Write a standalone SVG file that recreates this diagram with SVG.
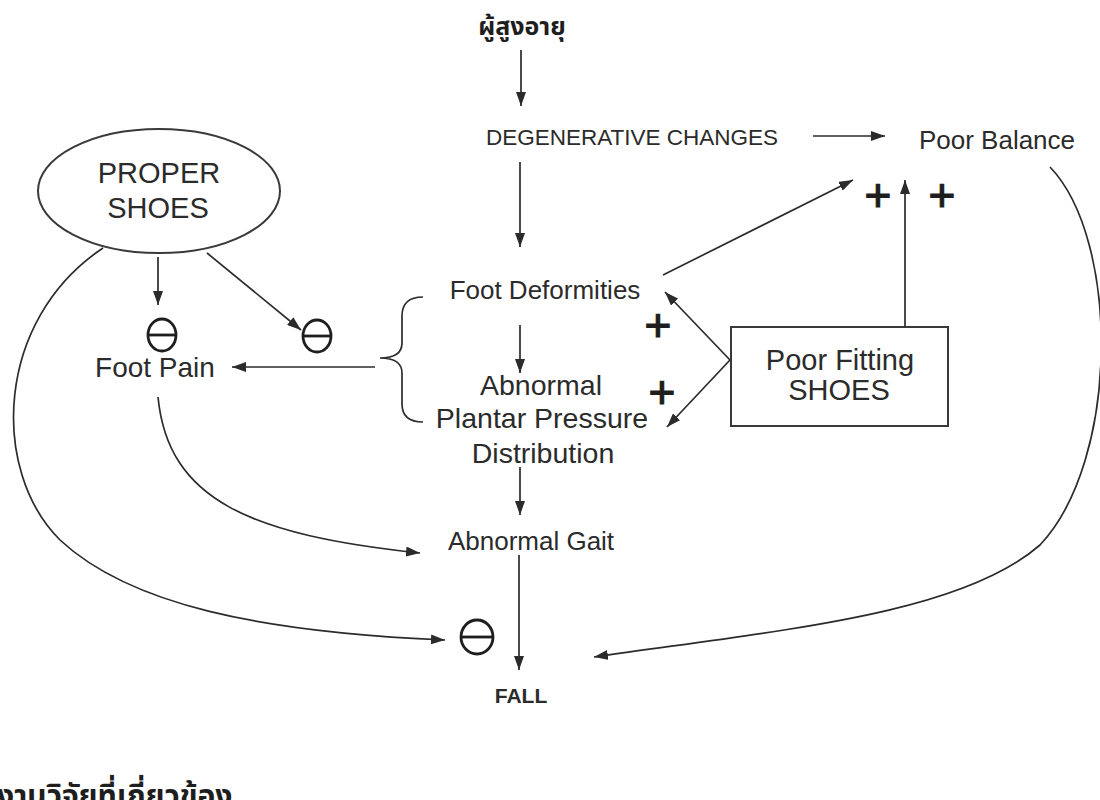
<svg xmlns="http://www.w3.org/2000/svg" width="1100" height="800" viewBox="0 0 1100 800">
<defs>
<marker id="ah" viewBox="0 0 14 10" refX="14" refY="5" markerWidth="14" markerHeight="10" markerUnits="userSpaceOnUse" orient="auto">
<path d="M0,0 L14,5 L0,10 Z" fill="#2b2b2b"/>
</marker>
<style>
.t{font-family:"Liberation Sans",Arial,sans-serif;fill:#2b2b2b;text-anchor:middle}
.th{font-family:"Noto Sans Thai","Noto Sans","DejaVu Sans",sans-serif;fill:#1e1e1e;font-weight:bold}
.c{fill:none;stroke:#2b2b2b;stroke-width:1.7}
.a{marker-end:url(#ah)}
.neg{fill:none;stroke:#1e1e1e;stroke-width:2.8}
.plus{font-family:"Liberation Sans",Arial,sans-serif;fill:#1e1e1e;stroke:#1e1e1e;stroke-width:1.2;text-anchor:middle;font-size:46px}
</style>
</defs>
<rect width="1100" height="800" fill="#ffffff"/>

<g id="elderly"><text class="th" x="522" y="35" font-size="25" text-anchor="middle">ผู้สูงอายุ</text></g>
<g id="degenerative"><text class="t" x="632" y="145" font-size="22.5">DEGENERATIVE CHANGES</text></g>
<g id="poor-balance"><text class="t" x="997" y="149" font-size="26">Poor Balance</text></g>
<g id="proper-shoes">
<ellipse cx="159" cy="191" rx="121" ry="62" fill="none" stroke="#3a3a3a" stroke-width="2"/>
<text class="t" x="159" y="183" font-size="29">PROPER</text>
<text class="t" x="158" y="218" font-size="29">SHOES</text>
</g>
<g id="foot-pain"><text class="t" x="155" y="377" font-size="28">Foot Pain</text></g>
<g id="foot-deformities"><text class="t" x="545" y="299" font-size="26">Foot Deformities</text></g>
<g id="plantar-pressure">
<text class="t" x="541" y="395" font-size="28.5">Abnormal</text>
<text class="t" x="542" y="428" font-size="28.5">Plantar Pressure</text>
<text class="t" x="543" y="463" font-size="28.5">Distribution</text>
</g>
<g id="abnormal-gait"><text class="t" x="531" y="550" font-size="26">Abnormal Gait</text></g>
<g id="fall"><text class="t" x="521" y="703" font-size="21" font-weight="bold">FALL</text></g>
<g id="poor-fitting-shoes">
<rect x="731" y="327" width="217" height="99" fill="none" stroke="#3a3a3a" stroke-width="2"/>
<text class="t" x="840" y="370" font-size="29">Poor Fitting</text>
<text class="t" x="839" y="400" font-size="29">SHOES</text>
</g>

<g id="signs">
<ellipse class="neg" cx="162" cy="335" rx="14" ry="16"/><line class="neg" x1="148" y1="335" x2="176" y2="335"/>
<ellipse class="neg" cx="317" cy="336" rx="14" ry="16"/><line class="neg" x1="303" y1="336" x2="331" y2="336"/>
<ellipse class="neg" cx="477" cy="637" rx="16" ry="17"/><line class="neg" x1="461" y1="637" x2="493" y2="637"/>
<text class="plus" x="878" y="211">+</text>
<text class="plus" x="942" y="211">+</text>
<text class="plus" x="658" y="341">+</text>
<text class="plus" x="662" y="408">+</text>
</g>

<g id="connectors">
<line class="c a" x1="521" y1="50" x2="521" y2="106"/>
<line class="c a" x1="813" y1="136" x2="885" y2="136"/>
<line class="c a" x1="520" y1="162" x2="520" y2="247"/>
<line class="c a" x1="520" y1="325" x2="520" y2="373"/>
<line class="c a" x1="520" y1="467" x2="520" y2="515"/>
<line class="c a" x1="519" y1="555" x2="519" y2="670"/>
<line class="c a" x1="375" y1="367" x2="232" y2="367"/>
<line class="c a" x1="158" y1="257" x2="158" y2="305"/>
<line class="c a" x1="207" y1="253" x2="301" y2="330"/>
<line class="c a" x1="663" y1="275" x2="853" y2="180"/>
<line class="c a" x1="905" y1="327" x2="905" y2="180"/>
<line class="c a" x1="730" y1="360" x2="665" y2="292"/>
<line class="c a" x1="730" y1="360" x2="667" y2="427"/>
<path class="c" d="M423,297 Q402,297 402,316 L402,343 Q402,358 380,358 Q402,358 402,373 L402,404 Q402,422 423,422"/>
<path class="c a" d="M103,248 C-5,320 -10,470 60,540 C130,605 260,632 445,640"/>
<path class="c a" d="M158,397 C168,500 250,535 420,553"/>
<path class="c a" d="M1050,167 C1120,240 1120,460 1040,545 C960,615 780,630 594,657"/>
</g>

<text class="th" x="-3" y="806" font-size="30">งานวิจัยที่เกี่ยวข้อง</text>
</svg>
